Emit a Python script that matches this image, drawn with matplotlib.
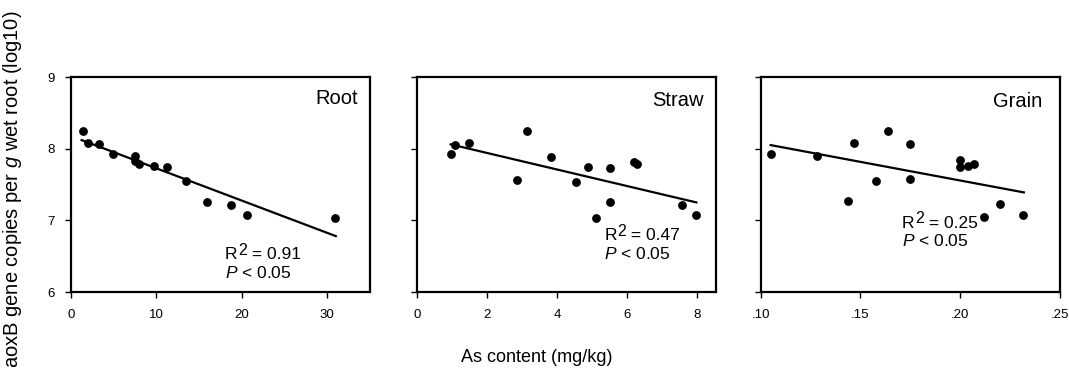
import numpy as np
import matplotlib.pyplot as plt
from matplotlib.ticker import FuncFormatter

plt.rcParams["font.family"] = ["Liberation Sans", "DejaVu Sans"]
plt.rcParams["mathtext.fontset"] = "custom"
plt.rcParams["mathtext.rm"] = "Liberation Sans"
plt.rcParams["mathtext.it"] = "Liberation Sans:italic"

# Root
root_x = [1.44, 1.95, 3.27, 4.94, 7.47, 7.55, 7.98, 9.77, 11.25, 13.5, 15.95, 18.7, 20.6, 30.9]
root_y = [8.24, 8.08, 8.06, 7.93, 7.90, 7.83, 7.78, 7.76, 7.74, 7.55, 7.26, 7.22, 7.07, 7.03]
root_fit_x = [1.25, 31.0]
root_fit_y = [8.12, 6.78]

# Straw
straw_x = [0.97, 1.10, 1.50, 2.87, 3.13, 3.82, 4.53, 4.89, 5.11, 5.50, 5.50, 6.20, 6.28, 7.57, 7.95]
straw_y = [7.92, 8.05, 8.08, 7.56, 8.24, 7.89, 7.54, 7.75, 7.03, 7.73, 7.25, 7.82, 7.78, 7.22, 7.07]
straw_fit_x = [0.97, 7.97]
straw_fit_y = [8.06, 7.25]

# Grain
grain_x = [0.105, 0.128, 0.144, 0.147, 0.158, 0.164, 0.175, 0.175, 0.200, 0.200, 0.204, 0.207, 0.212, 0.220, 0.2315]
grain_y = [7.93, 7.90, 7.27, 8.08, 7.55, 8.25, 8.07, 7.57, 7.84, 7.75, 7.76, 7.79, 7.04, 7.23, 7.08]
grain_fit_x = [0.105, 0.232]
grain_fit_y = [8.05, 7.39]

panels = [
    ("Root", root_x, root_y, root_fit_x, root_fit_y, "0.91", (0, 35), [0, 10, 20, 30]),
    ("Straw", straw_x, straw_y, straw_fit_x, straw_fit_y, "0.47", (0, 8.52), [0, 2, 4, 6, 8]),
    ("Grain", grain_x, grain_y, grain_fit_x, grain_fit_y, "0.25", (0.10, 0.25), [0.10, 0.15, 0.20, 0.25]),
]
lefts = [0.0664, 0.3898, 0.7116]
# where the name and the R2 text sit in each box (axes fraction, baseline of R2 line)
name_pos = [(0.96, 0.90), (0.96, 0.893), (0.94, 0.884)]
stat_pos = [(0.515, 0.153), (0.628, 0.243), (0.472, 0.30)]

fig = plt.figure(figsize=(10.69, 3.72), dpi=100)

for i, (name, x, y, fx, fy, r2, xlim, xticks) in enumerate(panels):
    ax = fig.add_axes([lefts[i], 0.215, 0.2797, 0.578])
    ax.scatter(x, y, s=40, color="black", zorder=3, linewidths=0)
    ax.plot(fx, fy, color="black", lw=1.6)
    ax.set_xlim(*xlim)
    ax.set_ylim(6, 9)
    ax.set_xticks(xticks)
    ax.set_yticks([6, 7, 8, 9])
    if name == "Grain":
        ax.xaxis.set_major_formatter(FuncFormatter(lambda v, p: f"{v:.2f}"[1:]))
    if i > 0:
        ax.set_yticklabels([])
    for sp in ax.spines.values():
        sp.set_linewidth(1.6)
    ax.tick_params(direction="out", length=4.5, width=1, labelsize=9.5, pad=7.5)

    ax.text(name_pos[i][0], name_pos[i][1], name, transform=ax.transAxes,
            ha="right", va="center", fontsize=14.5)

    # R^2 line: big raised "2" like the original
    sx, sy = stat_pos[i]
    t_r = ax.text(sx, sy, "R", transform=ax.transAxes, ha="left", va="baseline", fontsize=12.5)
    t_2 = ax.annotate("2", xy=(1, 0), xycoords=t_r, xytext=(0.5, 3), textcoords="offset points",
                      ha="left", va="bottom", fontsize=11.5)
    ax.annotate(" = " + r2, xy=(1, 0), xycoords=(t_2, t_r), ha="left", va="bottom", fontsize=12.5)
    ax.text(sx, sy - 0.088, "$P$ < 0.05", transform=ax.transAxes,
            ha="left", va="baseline", fontsize=12.5)

fig.text(0.012, 0.49, "aoxB gene copies per $g$ wet root (log10)", rotation=90,
         ha="center", va="center", fontsize=14.5)
fig.text(0.502, 0.038, "As content (mg/kg)", ha="center", va="center", fontsize=13)

plt.savefig("out.png", dpi=100)
